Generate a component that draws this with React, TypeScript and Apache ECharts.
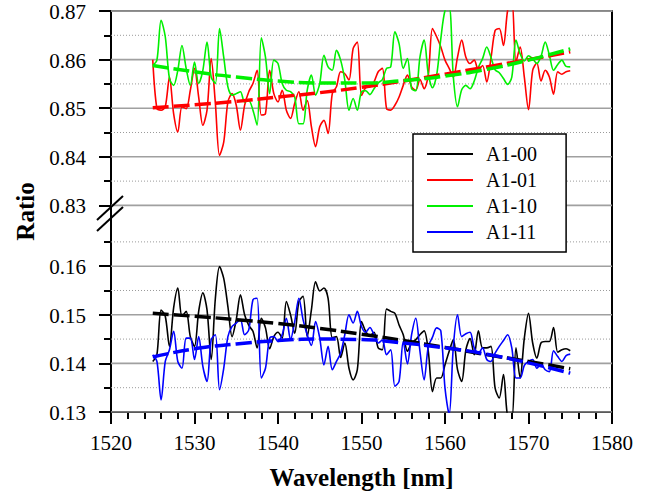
import React, { useEffect, useRef } from "react";
import * as echarts from "echarts";

// ---------- data ----------
const WAVELENGTH = [
  1525, 1525.5, 1526, 1526.5, 1527, 1527.5, 1528, 1528.5, 1529, 1529.5,
  1530, 1530.5, 1531, 1531.5, 1532, 1532.5, 1533, 1533.5, 1534, 1534.5,
  1535, 1535.5, 1536, 1536.5, 1537, 1537.5, 1538, 1538.5, 1539, 1539.5,
  1540, 1540.5, 1541, 1541.5, 1542, 1542.5, 1543, 1543.5, 1544, 1544.5,
  1545, 1545.5, 1546, 1546.5, 1547, 1547.5, 1548, 1548.5, 1549, 1549.5,
  1550, 1550.5, 1551, 1551.5, 1552, 1552.5, 1553, 1553.5, 1554, 1554.5,
  1555, 1555.5, 1556, 1556.5, 1557, 1557.5, 1558, 1558.5, 1559, 1559.5,
  1560, 1560.5, 1561, 1561.5, 1562, 1562.5, 1563, 1563.5, 1564, 1564.5,
  1565, 1565.5, 1566, 1566.5, 1567, 1567.5, 1568, 1568.5, 1569, 1569.5,
  1570, 1570.5, 1571, 1571.5, 1572, 1572.5, 1573, 1573.5, 1574, 1574.5,
  1575,
];

const A1_00 = [
  0.1404, 0.1418, 0.1510, 0.1497, 0.1435, 0.1514, 0.1555, 0.1497, 0.1507, 0.1455,
  0.1435, 0.1507, 0.1545, 0.1510, 0.1408, 0.1534, 0.1599, 0.1575, 0.1517, 0.1455,
  0.1490, 0.1541, 0.1500, 0.1478, 0.1466, 0.1432, 0.1493, 0.1473, 0.1430, 0.1455,
  0.1464, 0.1452, 0.1527, 0.1500, 0.1462, 0.1527, 0.1538, 0.1455, 0.1510, 0.1568,
  0.1549, 0.1555, 0.1534, 0.1453, 0.1455, 0.1412, 0.1442, 0.1390, 0.1366, 0.1387,
  0.1486, 0.1466, 0.1457, 0.1464, 0.1432, 0.1428, 0.1512, 0.1507, 0.1503, 0.1479,
  0.1459, 0.1425, 0.1442, 0.1449, 0.1459, 0.1467, 0.1425, 0.1342, 0.1370, 0.1370,
  0.1397, 0.1425, 0.1449, 0.1387, 0.1363, 0.1428, 0.1451, 0.1418, 0.1467, 0.1432,
  0.1432, 0.1435, 0.1349, 0.1329, 0.1377, 0.1290, 0.1285, 0.1432, 0.1370, 0.1452,
  0.1503, 0.1442, 0.1411, 0.1442, 0.1445, 0.1445, 0.1474, 0.1423, 0.1428, 0.1430,
  0.1426,
];

const A1_01 = [
  0.8600, 0.8499, 0.8496, 0.8503, 0.8564, 0.8489, 0.8451, 0.8503, 0.8499, 0.8537,
  0.8582, 0.8523, 0.8465, 0.8496, 0.8602, 0.8510, 0.8403, 0.8430, 0.8513, 0.8530,
  0.8506, 0.8455, 0.8506, 0.8534, 0.8551, 0.8578, 0.8486, 0.8489, 0.8578, 0.8530,
  0.8513, 0.8537, 0.8496, 0.8479, 0.8510, 0.8534, 0.8496, 0.8516, 0.8462, 0.8421,
  0.8462, 0.8475, 0.8448, 0.8530, 0.8544, 0.8575, 0.8571, 0.8558, 0.8623, 0.8636,
  0.8526, 0.8542, 0.8544, 0.8554, 0.8575, 0.8582, 0.8499, 0.8496, 0.8506, 0.8523,
  0.8547, 0.8568, 0.8544, 0.8537, 0.8559, 0.8540, 0.8568, 0.8664, 0.8647, 0.8626,
  0.8599, 0.8582, 0.8564, 0.8605, 0.8640, 0.8605, 0.8592, 0.8599, 0.8578, 0.8588,
  0.8554, 0.8602, 0.8660, 0.8664, 0.8629, 0.8701, 0.8725, 0.8595, 0.8626, 0.8564,
  0.8497, 0.8578, 0.8593, 0.8556, 0.8578, 0.8564, 0.8529, 0.8575, 0.8570, 0.8575,
  0.8577,
];

const A1_10 = [
  0.8588, 0.8599, 0.8681, 0.8647, 0.8561, 0.8547, 0.8578, 0.8629, 0.8582, 0.8547,
  0.8595, 0.8551, 0.8578, 0.8636, 0.8564, 0.8551, 0.8664, 0.8605, 0.8544, 0.8527,
  0.8530, 0.8534, 0.8513, 0.8516, 0.8496, 0.8465, 0.8645, 0.8605, 0.8530, 0.8599,
  0.8592, 0.8551, 0.8537, 0.8534, 0.8523, 0.8468, 0.8468, 0.8537, 0.8568, 0.8527,
  0.8551, 0.8609, 0.8585, 0.8578, 0.8619, 0.8599, 0.8558, 0.8496, 0.8520, 0.8496,
  0.8534, 0.8536, 0.8528, 0.8540, 0.8552, 0.8559, 0.8582, 0.8585, 0.8657, 0.8633,
  0.8582, 0.8602, 0.8540, 0.8536, 0.8605, 0.8640, 0.8570, 0.8542, 0.8568, 0.8643,
  0.8701, 0.8708, 0.8564, 0.8503, 0.8538, 0.8547, 0.8540, 0.8556, 0.8584, 0.8602,
  0.8626, 0.8605, 0.8579, 0.8573, 0.8561, 0.8549, 0.8564, 0.8640, 0.8612, 0.8597,
  0.8608, 0.8602, 0.8592, 0.8607, 0.8636, 0.8609, 0.8578, 0.8590, 0.8599, 0.8586,
  0.8585,
];

const A1_11 = [
  0.1418, 0.1404, 0.1325, 0.1404, 0.1428, 0.1466, 0.1404, 0.1390, 0.1452, 0.1452,
  0.1408, 0.1455, 0.1394, 0.1363, 0.1449, 0.1459, 0.1346, 0.1390, 0.1455, 0.1476,
  0.1483, 0.1490, 0.1459, 0.1469, 0.1531, 0.1534, 0.1370, 0.1390, 0.1452, 0.1455,
  0.1445, 0.1459, 0.1493, 0.1449, 0.1486, 0.1534, 0.1490, 0.1459, 0.1437, 0.1486,
  0.1452, 0.1397, 0.1435, 0.1387, 0.1404, 0.1421, 0.1459, 0.1500, 0.1483, 0.1507,
  0.1476, 0.1464, 0.1474, 0.1459, 0.1442, 0.1448, 0.1418, 0.1428, 0.1353, 0.1363,
  0.1445, 0.1399, 0.1459, 0.1493, 0.1425, 0.1366, 0.1435, 0.1454, 0.1473, 0.1467,
  0.1349, 0.1295, 0.1435, 0.1500, 0.1455, 0.1461, 0.1464, 0.1432, 0.1421, 0.1432,
  0.1408, 0.1404, 0.1421, 0.1435, 0.1447, 0.1459, 0.1432, 0.1370, 0.1370, 0.1396,
  0.1404, 0.1408, 0.1390, 0.1399, 0.1387, 0.1383, 0.1426, 0.1414, 0.1404, 0.1416,
  0.1419,
];

const FIT_WAVELENGTH = [1525, 1530, 1535, 1540, 1545, 1550, 1555, 1560, 1565, 1570, 1575];
const FIT_A1_00 = [0.1503, 0.1497, 0.1490, 0.1482, 0.1472, 0.1460, 0.1447, 0.1433, 0.1418, 0.1404, 0.1389];
const FIT_A1_01 = [0.8501, 0.8507, 0.8514, 0.8523, 0.8532, 0.8543, 0.8556, 0.8570, 0.8585, 0.8600, 0.8616];
const FIT_A1_10 = [0.8588, 0.8575, 0.8564, 0.8556, 0.8552, 0.8552, 0.8557, 0.8566, 0.8580, 0.8599, 0.8622];
const FIT_A1_11 = [0.1413, 0.1430, 0.1440, 0.1447, 0.1450, 0.1449, 0.1442, 0.1432, 0.1419, 0.1401, 0.1380];

const SERIES_NAMES = ["A1-00", "A1-01", "A1-10", "A1-11"];
const SERIES_COLORS = ["#000000", "#ff0000", "#00f000", "#0000ff"];

// x-axis range and tick labels
const X_MIN = 1520;
const X_MAX = 1580;
const X_TICKS = [1520, 1530, 1540, 1550, 1560, 1570, 1580];

// y-axis tick values (broken axis: lower segment and upper segment)
const LOWER_MAJOR = [0.13, 0.14, 0.15, 0.16];
const LOWER_MINOR = [0.135, 0.145, 0.155, 0.165];
const UPPER_MAJOR = [0.83, 0.84, 0.85, 0.86, 0.87];
const UPPER_MINOR = [0.835, 0.845, 0.855, 0.865];

const X_TITLE = "Wavelength [nm]";
const Y_TITLE = "Ratio";

// broken axis: upper segment starts at this axis position
const BREAK_AXIS_POS = 0.1725;
const UPPER_START = 0.83;
const OFFSET = UPPER_START - BREAK_AXIS_POS;
const toAxis = (v: number) => (v > 0.5 ? v - OFFSET : v);

const FONT = "Liberation Serif";

export default function App() {
  const ref = useRef<HTMLDivElement>(null);

  useEffect(() => {
    if (!ref.current) return;
    const chart = echarts.init(ref.current, null, { renderer: "svg" });

    const majorsRaw = [...LOWER_MAJOR, ...UPPER_MAJOR];
    const majors = majorsRaw.map(toAxis);
    const minors = [...LOWER_MINOR, ...UPPER_MINOR].map(toAxis);
    const Y_MIN = LOWER_MAJOR[0];
    const Y_MAX = toAxis(UPPER_MAJOR[UPPER_MAJOR.length - 1]);

    const raw = [A1_00, A1_01, A1_10, A1_11];
    const fits = [FIT_A1_00, FIT_A1_01, FIT_A1_10, FIT_A1_11];

    const gridLineSeries = [
      ...majors.map((v, i) => ({
        name: "major-grid-" + i,
        type: "line",
        data: [[X_MIN, v], [X_MAX, v]],
        showSymbol: false,
        symbol: "none",
        silent: true,
        z: 1,
        lineStyle: { color: "#a0a0a0", width: 1.6, type: "solid" },
      })),
      ...minors.map((v, i) => ({
        name: "minor-grid-" + i,
        type: "line",
        data: [[X_MIN, v], [X_MAX, v]],
        showSymbol: false,
        symbol: "none",
        silent: true,
        z: 1,
        lineStyle: { color: "#9a9a9a", width: 1, type: [1, 2] },
      })),
    ];

    const dataSeries = raw.map((vals, i) => ({
      name: SERIES_NAMES[i],
      type: "line",
      data: WAVELENGTH.map((w, k) => [w, toAxis(vals[k])]),
      showSymbol: false,
      symbol: "none",
      smooth: 0.3,
      z: 3,
      lineStyle: { color: SERIES_COLORS[i], width: 1.6 },
      itemStyle: { color: SERIES_COLORS[i] },
    }));

    const fitSeries = fits.map((vals, i) => ({
      name: "fit " + SERIES_NAMES[i],
      type: "line",
      data: FIT_WAVELENGTH.map((w, k) => [w, toAxis(vals[k])]),
      smooth: true,
      showSymbol: false,
      symbol: "none",
      z: 4,
      lineStyle: { color: SERIES_COLORS[i], width: 3.5, type: [16, 5] },
      itemStyle: { color: SERIES_COLORS[i] },
    }));

    const breakMarks = [
      { id: "brk1", type: "line", z: 100, shape: { x1: 97, y1: 220, x2: 123, y2: 196 }, style: { stroke: "#000", lineWidth: 2 } },
      { id: "brk2", type: "line", z: 100, shape: { x1: 97, y1: 231, x2: 123, y2: 207 }, style: { stroke: "#000", lineWidth: 2 } },
    ];

    const option = {
      animation: false,
      backgroundColor: "#ffffff",
      textStyle: { fontFamily: FONT, color: "#000" },
      grid: { left: 111, right: 40, top: 11, bottom: 85, show: false },
      legend: {
        data: SERIES_NAMES.map((n, i) => ({ name: n, itemStyle: { color: SERIES_COLORS[i] } })),
        orient: "vertical",
        left: 413,
        top: 134,
        padding: [10, 29, 10, 14],
        icon: "rect",
        itemWidth: 46,
        itemHeight: 2,
        itemGap: 6,
        backgroundColor: "#ffffff",
        borderColor: "#000000",
        borderWidth: 1.5,
        borderRadius: 0,
        textStyle: { fontFamily: FONT, fontSize: 20, color: "#000", padding: [0, 0, 0, 8], lineHeight: 20 },
      },
      xAxis: [
        {
          type: "value",
          min: X_MIN,
          max: X_MAX,
          interval: 10,
          position: "bottom",
          axisLine: { show: true, onZero: false, lineStyle: { color: "#000", width: 2 } },
          axisTick: { show: true, inside: false, length: 12, lineStyle: { color: "#000", width: 2 } },
          minorTick: { show: true, splitNumber: 5, length: 7, lineStyle: { color: "#000", width: 2 } },
          axisLabel: { show: false },
          splitLine: { show: false },
          minorSplitLine: { show: false },
        },
        {
          type: "value",
          min: X_MIN,
          max: X_MAX,
          position: "top",
          axisLine: { show: true, onZero: false, lineStyle: { color: "#666", width: 2 } },
          axisTick: { show: false },
          axisLabel: { show: false },
          splitLine: { show: false },
        },
      ],
      yAxis: [
        {
          type: "value",
          min: Y_MIN,
          max: Y_MAX,
          position: "left",
          axisLine: { show: true, onZero: false, lineStyle: { color: "#000", width: 2 } },
          axisTick: { show: true, inside: false, length: 12, customValues: majors, lineStyle: { color: "#000", width: 2 } },
          axisLabel: { show: false },
          splitLine: { show: false },
        },
        {
          type: "value",
          min: Y_MIN,
          max: Y_MAX,
          position: "left",
          axisLine: { show: false },
          axisTick: { show: true, inside: false, length: 7, customValues: minors, lineStyle: { color: "#000", width: 2 } },
          axisLabel: { show: false },
          splitLine: { show: false },
        },
        {
          type: "value",
          min: Y_MIN,
          max: Y_MAX,
          position: "right",
          axisLine: { show: true, onZero: false, lineStyle: { color: "#000", width: 2 } },
          axisTick: { show: false },
          axisLabel: { show: false },
          splitLine: { show: false },
        },
      ],
      graphic: breakMarks,
      series: [...gridLineSeries, ...dataSeries, ...fitSeries],
    };

    chart.setOption(option as any);

    // Tick labels and titles as serif text, positioned through the axes' own scales.
    const px = (v: number) => chart.convertToPixel({ xAxisIndex: 0 }, v) as number;
    const py = (v: number) => chart.convertToPixel({ yAxisIndex: 0 }, v) as number;
    const axisY = py(Y_MIN);
    const axisX = px(X_MIN);
    const tickStyle = { fontFamily: FONT, fontSize: 21, fill: "#000" };
    const titleStyle = { fontFamily: FONT, fontSize: 25, fontWeight: "bold", fill: "#000" };

    const xLabels = X_TICKS.map((t, i) => ({
      id: "xl" + i,
      type: "text",
      z: 100,
      x: px(t),
      y: axisY + 31,
      style: { ...tickStyle, text: String(t), align: "center", verticalAlign: "middle" },
    }));
    const yLabels = majorsRaw.map((t, i) => ({
      id: "yl" + i,
      type: "text",
      z: 100,
      x: axisX - 25,
      y: py(toAxis(t)) + 1,
      style: { ...tickStyle, text: t.toFixed(2), align: "right", verticalAlign: "middle" },
    }));
    const titles = [
      {
        id: "xtitle",
        type: "text",
        z: 100,
        x: (px(X_MIN) + px(X_MAX)) / 2,
        y: axisY + 65,
        style: { ...titleStyle, text: X_TITLE, align: "center", verticalAlign: "middle" },
      },
      {
        id: "ytitle",
        type: "text",
        z: 100,
        x: axisX - 86,
        y: (py(Y_MIN) + py(Y_MAX)) / 2,
        rotation: Math.PI / 2,
        style: { ...titleStyle, text: Y_TITLE, align: "center", verticalAlign: "middle" },
      },
    ];

    chart.setOption({ graphic: [...breakMarks, ...xLabels, ...yLabels, ...titles] } as any);

    return () => chart.dispose();
  }, []);

  return (
    <div
      ref={ref}
      style={{ position: "fixed", left: 0, top: 0, width: 652, height: 497, background: "#fff" }}
    />
  );
}
